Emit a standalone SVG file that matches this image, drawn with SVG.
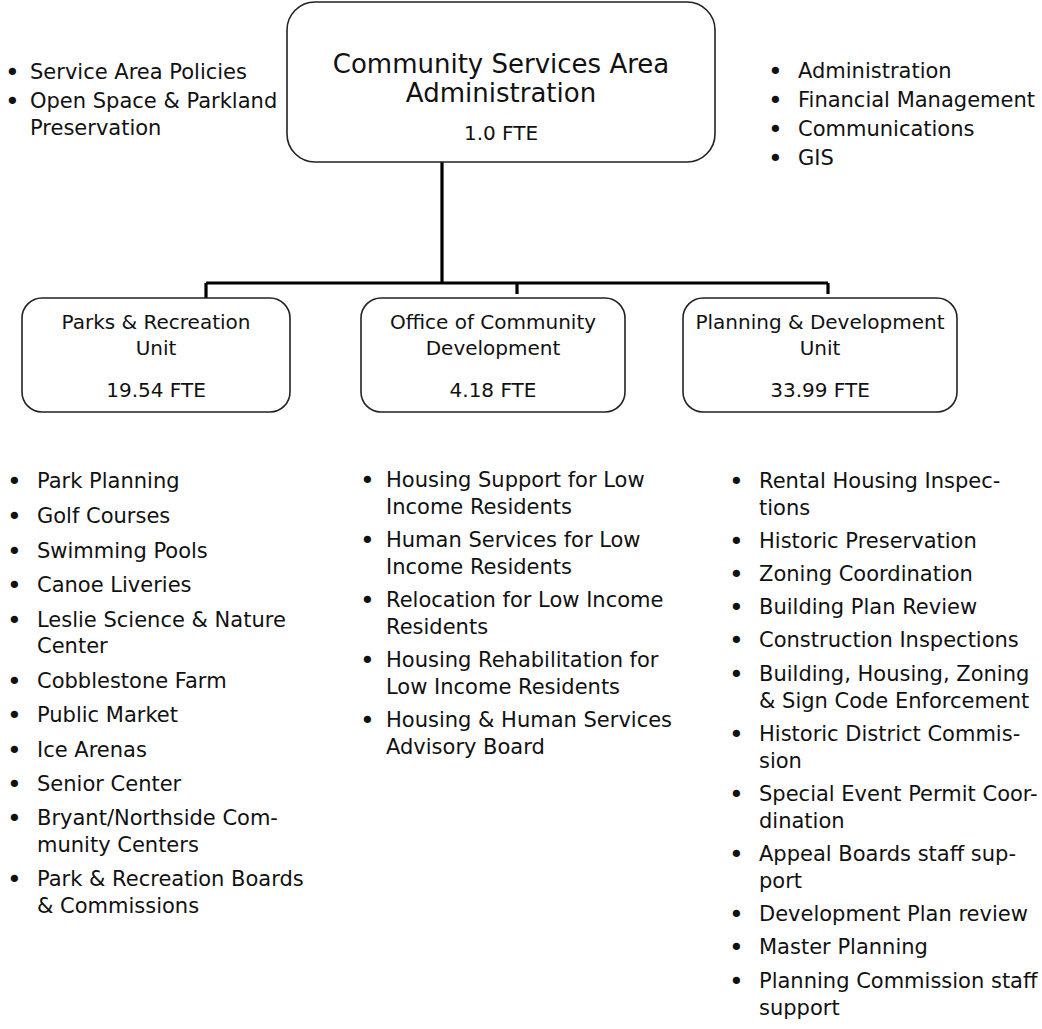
<svg xmlns="http://www.w3.org/2000/svg" width="1042" height="1029" viewBox="0 0 1042 1029">
<style>
text{font-family:"DejaVu Sans","Verdana","Liberation Sans",sans-serif;fill:#111;}
.box{fill:#fff;stroke:#222;stroke-width:1.6;}
.conn{fill:none;stroke:#000;stroke-width:3.2;}
.ttl{font-size:26px;text-anchor:middle;}
.lbl{font-size:20px;text-anchor:middle;}
.li{font-size:21px;}
.bu{font-size:25px;transform:translate(0px,2px);}
</style>
<rect width="1042" height="1029" fill="#fff"/>
<g id="connectors">
<path class="conn" d="M442,162 V283 M206,283 H828 M206,283 V298 M517,283 V294 M828,283 V294"/>
</g>
<g id="node-admin">
<rect class="box" x="287" y="2" width="428" height="160" rx="28" ry="28"/>
<text class="ttl" x="501" y="73">Community Services Area</text>
<text class="ttl" x="501" y="102">Administration</text>
<text class="lbl" x="501" y="140">1.0 FTE</text>
</g>
<g id="node-parks">
<rect class="box" x="22" y="298" width="268" height="114" rx="20" ry="20"/>
<text class="lbl" x="156" y="329">Parks &amp; Recreation</text>
<text class="lbl" x="156" y="355">Unit</text>
<text class="lbl" x="156" y="397">19.54 FTE</text>
</g>
<g id="node-ocd">
<rect class="box" x="361" y="298" width="264" height="114" rx="20" ry="20"/>
<text class="lbl" x="493" y="329">Office of Community</text>
<text class="lbl" x="493" y="355">Development</text>
<text class="lbl" x="493" y="397">4.18 FTE</text>
</g>
<g id="node-planning">
<rect class="box" x="683" y="298" width="274" height="114" rx="20" ry="20"/>
<text class="lbl" x="820" y="329">Planning &amp; Development</text>
<text class="lbl" x="820" y="355">Unit</text>
<text class="lbl" x="820" y="397">33.99 FTE</text>
</g>
<g id="list-admin-left">
<text class="bu" x="5" y="79">•</text><text class="li" x="30" y="79">Service Area Policies</text>
<text class="bu" x="5" y="108">•</text><text class="li" x="30" y="108">Open Space &amp; Parkland</text>
<text class="li" x="30" y="135">Preservation</text>
</g>
<g id="list-admin-right">
<text class="bu" x="768" y="78">•</text><text class="li" x="798" y="78">Administration</text>
<text class="bu" x="768" y="107">•</text><text class="li" x="798" y="107">Financial Management</text>
<text class="bu" x="768" y="136">•</text><text class="li" x="798" y="136">Communications</text>
<text class="bu" x="768" y="165">•</text><text class="li" x="798" y="165">GIS</text>
</g>
<g id="list-parks">
<text class="bu" x="7" y="488">•</text><text class="li" x="37" y="488">Park Planning</text>
<text class="bu" x="7" y="523">•</text><text class="li" x="37" y="523">Golf Courses</text>
<text class="bu" x="7" y="558">•</text><text class="li" x="37" y="558">Swimming Pools</text>
<text class="bu" x="7" y="592">•</text><text class="li" x="37" y="592">Canoe Liveries</text>
<text class="bu" x="7" y="627">•</text><text class="li" x="37" y="627">Leslie Science &amp; Nature</text>
<text class="li" x="37" y="653">Center</text>
<text class="bu" x="7" y="688">•</text><text class="li" x="37" y="688">Cobblestone Farm</text>
<text class="bu" x="7" y="722">•</text><text class="li" x="37" y="722">Public Market</text>
<text class="bu" x="7" y="757">•</text><text class="li" x="37" y="757">Ice Arenas</text>
<text class="bu" x="7" y="791">•</text><text class="li" x="37" y="791">Senior Center</text>
<text class="bu" x="7" y="825">•</text><text class="li" x="37" y="825">Bryant/Northside Com-</text>
<text class="li" x="37" y="852">munity Centers</text>
<text class="bu" x="7" y="886">•</text><text class="li" x="37" y="886">Park &amp; Recreation Boards</text>
<text class="li" x="37" y="913">&amp; Commissions</text>
</g>
<g id="list-ocd">
<text class="bu" x="360" y="487">•</text><text class="li" x="386" y="487">Housing Support for Low</text>
<text class="li" x="386" y="514">Income Residents</text>
<text class="bu" x="360" y="547">•</text><text class="li" x="386" y="547">Human Services for Low</text>
<text class="li" x="386" y="574">Income Residents</text>
<text class="bu" x="360" y="607">•</text><text class="li" x="386" y="607">Relocation for Low Income</text>
<text class="li" x="386" y="634">Residents</text>
<text class="bu" x="360" y="667">•</text><text class="li" x="386" y="667">Housing Rehabilitation for</text>
<text class="li" x="386" y="694">Low Income Residents</text>
<text class="bu" x="360" y="727">•</text><text class="li" x="386" y="727">Housing &amp; Human Services</text>
<text class="li" x="386" y="754">Advisory Board</text>
</g>
<g id="list-planning">
<text class="bu" x="729" y="488">•</text><text class="li" x="759" y="488">Rental Housing Inspec-</text>
<text class="li" x="759" y="515">tions</text>
<text class="bu" x="729" y="548">•</text><text class="li" x="759" y="548">Historic Preservation</text>
<text class="bu" x="729" y="581">•</text><text class="li" x="759" y="581">Zoning Coordination</text>
<text class="bu" x="729" y="614">•</text><text class="li" x="759" y="614">Building Plan Review</text>
<text class="bu" x="729" y="647">•</text><text class="li" x="759" y="647">Construction Inspections</text>
<text class="bu" x="729" y="681">•</text><text class="li" x="759" y="681">Building, Housing, Zoning</text>
<text class="li" x="759" y="708">&amp; Sign Code Enforcement</text>
<text class="bu" x="729" y="741">•</text><text class="li" x="759" y="741">Historic District Commis-</text>
<text class="li" x="759" y="768">sion</text>
<text class="bu" x="729" y="801">•</text><text class="li" x="759" y="801">Special Event Permit Coor-</text>
<text class="li" x="759" y="828">dination</text>
<text class="bu" x="729" y="861">•</text><text class="li" x="759" y="861">Appeal Boards staff sup-</text>
<text class="li" x="759" y="888">port</text>
<text class="bu" x="729" y="921">•</text><text class="li" x="759" y="921">Development Plan review</text>
<text class="bu" x="729" y="954">•</text><text class="li" x="759" y="954">Master Planning</text>
<text class="bu" x="729" y="988">•</text><text class="li" x="759" y="988">Planning Commission staff</text>
<text class="li" x="759" y="1015">support</text>
</g>
</svg>
